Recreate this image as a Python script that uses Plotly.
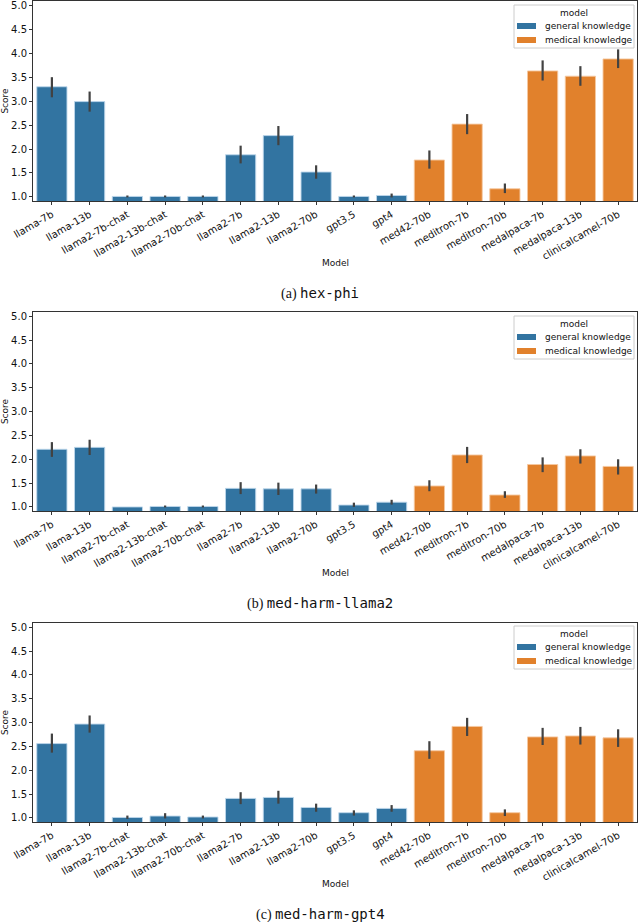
import plotly.graph_objects as go

models = ["llama-7b", "llama-13b", "llama2-7b-chat", "llama2-13b-chat", "llama2-70b-chat",
          "llama2-7b", "llama2-13b", "llama2-70b", "gpt3.5", "gpt4",
          "med42-70b", "meditron-7b", "meditron-70b", "medalpaca-7b", "medalpaca-13b",
          "clinicalcamel-70b"]
groups = ["general knowledge"] * 10 + ["medical knowledge"] * 6
group_names = ["general knowledge", "medical knowledge"]

# (a) hex-phi
hexphi_mean = [3.30, 2.99, 1.01, 1.01, 1.01, 1.88, 2.28, 1.52, 1.01, 1.03,
               1.77, 2.52, 1.17, 3.63, 3.52, 3.88]
hexphi_hi = [3.50, 3.20, 1.03, 1.03, 1.03, 2.07, 2.48, 1.66, 1.03, 1.07,
             1.97, 2.73, 1.28, 3.85, 3.73, 4.08]
hexphi_lo = [3.08, 2.78, 0.99, 0.99, 0.99, 1.70, 2.08, 1.38, 0.99, 0.99,
             1.59, 2.31, 1.08, 3.43, 3.32, 3.69]

# (b) med-harm-llama2
llama2_mean = [2.21, 2.25, 1.00, 1.01, 1.01, 1.39, 1.38, 1.38, 1.04, 1.10,
               1.44, 2.09, 1.25, 1.89, 2.07, 1.85]
llama2_hi = [2.36, 2.41, 1.00, 1.03, 1.03, 1.52, 1.51, 1.47, 1.09, 1.15,
             1.56, 2.26, 1.33, 2.04, 2.21, 2.00]
llama2_lo = [2.05, 2.09, 1.00, 0.99, 0.99, 1.27, 1.25, 1.28, 1.00, 1.05,
             1.33, 1.92, 1.19, 1.73, 1.91, 1.68]

# (c) med-harm-gpt4
gpt4_mean = [2.56, 2.97, 1.01, 1.04, 1.02, 1.41, 1.43, 1.22, 1.11, 1.20,
             2.41, 2.92, 1.11, 2.70, 2.72, 2.68]
gpt4_hi = [2.77, 3.15, 1.05, 1.10, 1.05, 1.54, 1.57, 1.30, 1.16, 1.27,
           2.61, 3.10, 1.18, 2.89, 2.91, 2.86]
gpt4_lo = [2.37, 2.79, 0.98, 0.99, 0.99, 1.29, 1.30, 1.13, 1.05, 1.13,
           2.24, 2.72, 1.04, 2.53, 2.54, 2.49]

panels = [
    ("hex-phi", hexphi_mean, hexphi_hi, hexphi_lo),
    ("med-harm-llama2", llama2_mean, llama2_hi, llama2_lo),
    ("med-harm-gpt4", gpt4_mean, gpt4_hi, gpt4_lo),
]
letters = ["a", "b", "c"]
colors = {"general knowledge": "#3274a1", "medical knowledge": "#e1812c"}
edge = {"general knowledge": "rgba(190,215,235,0.9)", "medical knowledge": "rgba(245,200,160,0.9)"}

W, H = 640, 922
boxes = [(1, 201), (312, 511), (623, 822)]   # plot-area top/bottom in px
legend_tops = [5, 316, 626]
x0, x1 = 33, 637
FONT = "DejaVu Sans"
TXT = "#111"


def px(x):
    return x / W


def py(y):
    return 1 - y / H


fig = go.Figure()
for p, (name, mean, hi, lo) in enumerate(panels):
    ax = "" if p == 0 else str(p + 1)
    for g in group_names:
        idx = [i for i in range(len(models)) if groups[i] == g]
        fig.add_trace(go.Bar(
            x=[models[i] for i in idx],
            y=[mean[i] for i in idx],
            error_y=dict(type="data", symmetric=False,
                         array=[hi[i] - mean[i] for i in idx],
                         arrayminus=[mean[i] - lo[i] for i in idx],
                         color="#424242", thickness=2.2, width=0),
            width=0.8,
            marker=dict(color=colors[g], line=dict(color=edge[g], width=1)),
            name=g,
            xaxis="x" + ax, yaxis="y" + ax,
            showlegend=False,
        ))
    top, bot = boxes[p]
    fig.layout["xaxis" + ax] = dict(
        domain=[px(x0), px(x1)], anchor="y" + ax, automargin=False,
        categoryorder="array", categoryarray=models,
        range=[-0.5, len(models) - 0.5],
        tickangle=-30, tickfont=dict(family=FONT, size=10, color=TXT),
        ticklabeloverflow="allow",
        showline=True, mirror=True, linecolor="#333", linewidth=1,
        ticks="outside", ticklen=3, tickcolor="#333", showgrid=False,
    )
    fig.layout["yaxis" + ax] = dict(
        domain=[py(bot), py(top)], anchor="x" + ax, automargin=False,
        range=[0.915, 5.09],
        tickvals=[1.0, 1.5, 2.0, 2.5, 3.0, 3.5, 4.0, 4.5, 5.0],
        tickformat=".1f",
        tickfont=dict(family=FONT, size=10, color=TXT),
        ticklabeloverflow="allow",
        showline=True, mirror=True, linecolor="#333", linewidth=1,
        ticks="outside", ticklen=3, tickcolor="#333", showgrid=False, zeroline=False,
        title=dict(text="Score", font=dict(family=FONT, size=9, color=TXT), standoff=3),
    )

    # legend box (drawn in paper space)
    lt = legend_tops[p]
    fig.add_shape(type="rect", xref="paper", yref="paper",
                  x0=px(514), x1=px(634), y0=py(lt + 43), y1=py(lt),
                  line=dict(color="#cccccc", width=1), fillcolor="rgba(255,255,255,0.8)")
    fig.add_annotation(text="model", x=px(574), y=py(lt + 8), xref="paper", yref="paper",
                       showarrow=False, font=dict(family=FONT, size=9, color=TXT),
                       xanchor="center", yanchor="middle")
    for k, g in enumerate(group_names):
        yc = lt + 21 + 14 * k
        fig.add_shape(type="rect", xref="paper", yref="paper",
                      x0=px(517), x1=px(536), y0=py(yc + 3), y1=py(yc - 3),
                      line=dict(width=0), fillcolor=colors[g])
        fig.add_annotation(text=g, x=px(543), y=py(yc), xref="paper", yref="paper",
                           showarrow=False, font=dict(family=FONT, size=9, color=TXT),
                           xanchor="left", yanchor="middle")

    fig.add_annotation(
        text="Model", x=px((x0 + x1) / 2), y=py(bot + 62),
        xref="paper", yref="paper", showarrow=False,
        font=dict(family=FONT, size=9, color=TXT), xanchor="center", yanchor="middle",
    )
    fig.add_annotation(
        text=f"({letters[p]}) <span style='font-family:DejaVu Sans Mono'>{name}</span>",
        x=0.5, y=py(bot + 92),
        xref="paper", yref="paper", showarrow=False,
        font=dict(family="Liberation Serif", size=14, color=TXT),
        xanchor="center", yanchor="middle",
    )

fig.update_layout(
    width=W, height=H, margin=dict(l=0, r=0, t=0, b=0),
    paper_bgcolor="white", plot_bgcolor="white",
    barmode="overlay", bargap=0.2,
)
fig.write_html("out.html", config={"displayModeBar": False},
               post_script="document.body.style.margin='0';document.body.style.overflow='hidden';")
